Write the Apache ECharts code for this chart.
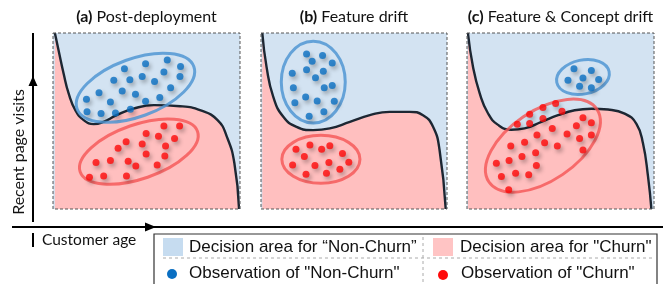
<!DOCTYPE html>
<html>
<head>
<meta charset="utf-8">
<script src="https://cdn.jsdelivr.net/npm/echarts@6/dist/echarts.min.js"></script>
<style>
  html, body { margin: 0; padding: 0; background: #fff; }
  #chart { width: 663px; height: 284px; }
</style>
</head>
<body>
<div id="chart"></div>
<script>
// panel titles
const panelTags = ['(a)', '(b)', '(c)'];
const panelNames = ['Post-deployment', 'Feature drift', 'Feature & Concept drift'];

// decision boundary of each panel (x: customer age, y: recent page visits, 0-100)
const boundaryA = [[1, 100], [3, 90], [5.7, 76.8], [8.4, 65.5], [12, 56], [16.4, 50.5], [21.8, 48.2], [27, 49.5],
  [34, 53.3], [43, 57], [54, 59], [68, 58.4], [79, 56], [88, 50.5], [93, 41], [97, 26], [99.5, 0]];
const boundaryB = [[0.7, 100], [3, 80.6], [6.6, 63.7], [12, 52.4], [19.1, 46.7], [28.1, 44.8], [37, 45.8], [47.8, 49.5],
  [58.5, 53.3], [69.2, 55.2], [80, 55.2], [87.1, 53.3], [92.5, 46.7], [96, 33.5], [99.3, 0]];
const boundaryC = [[0.5, 100], [3.2, 80.8], [6.8, 65.7], [11.2, 54.4], [16.6, 47.8], [23.7, 45], [30.8, 45.8], [39.8, 49.5],
  [48.7, 53.3], [57.6, 56.1], [66.5, 57], [75.4, 56.5], [84.3, 54.2], [90.6, 48.4], [94.1, 37.3], [96.8, 18.5], [98.6, 0]];

// observations
const nonChurnA = [[49.5, 82.5], [61.1, 84.7], [68.2, 81], [38.2, 79.7], [41.1, 73.4], [47.7, 75.3], [59.3, 77.8], [67.9, 75.3],
  [32.5, 73.1], [54.3, 72.5], [62.9, 68.9], [24.6, 66.1], [37, 67], [44.1, 65.2], [57.1, 63.3], [17.9, 62.3], [30.7, 60.8],
  [49.5, 61.2], [41.4, 56.7], [18.2, 55.2], [25.7, 54.2], [33.4, 54.6]];
const churnA = [[59.3, 47.1], [67.7, 47.1], [49.8, 42.9], [56.4, 41.4], [65, 40.1], [39.1, 38.2], [34.8, 34.5], [47.7, 36.9],
  [60.2, 35.8], [49.8, 31.3], [59.8, 30.1], [23, 26.4], [30.7, 27.5], [40.2, 27.1], [44.3, 24.5], [55.7, 25], [19.5, 18.1],
  [27.1, 18.8], [39.3, 18.8]];
const nonChurnB = [[24.5, 88.1], [33.1, 87.2], [27.5, 84], [38.3, 83], [16.8, 77.2], [24.5, 79.1], [33.5, 78.3], [29.3, 74.6],
  [17.4, 68.9], [34, 68.9], [38.3, 70.2], [24, 63.7], [30.2, 61.4], [39.4, 61.2], [18.2, 60.3], [33.8, 55.2], [25.9, 52.7]];
const churnB = [[26.3, 36.3], [37, 36], [18.8, 33.9], [32.6, 33.9], [23.3, 29.8], [43.8, 31.6], [17, 25], [29, 24.7],
  [36.5, 26.4], [47.2, 26.6], [24.2, 19.8], [35.2, 20.3], [42.4, 22.6]];
const nonChurnC = [[57.2, 79.7], [66.5, 78.7], [54, 73.1], [62, 74.4], [70.4, 73.6], [60.2, 69.7], [66.5, 68.9]];
const churnC = [[47.4, 59.9], [40.6, 57.6], [50.8, 55.6], [33.5, 53.9], [40.6, 51.4], [26.9, 48.2], [33.5, 48.6], [62, 51.8],
  [66.5, 49], [58.5, 47.3], [45.6, 45.8], [37.4, 42], [53.5, 42.6], [66.5, 42], [23.4, 35.8], [30.8, 37.9], [41.5, 37.7],
  [48.3, 35.8], [60.2, 40.1], [62, 33.5], [36.7, 32], [29.4, 29.8], [15.7, 26], [22.5, 27.5], [37.1, 24.7], [18.4, 18.5],
  [26, 20.3], [33, 19.4], [22.3, 10.9]];

// cluster outlines: [centre x, centre y, semi axis a, semi axis b, tilt deg]
const clusterNonChurn = [[44.1, 68.9, 33.2, 15.5, 20], [28.1, 72.1, 17.2, 22, 0], [62, 75, 14.3, 9.1, 12]];
const clusterChurn = [[45.9, 32.6, 33.2, 14.5, 19], [32.2, 28.2, 21, 12.9, 0], [40.6, 36, 34.8, 18.7, 34]];

const boundaries = [boundaryA, boundaryB, boundaryC];
const nonChurn = [nonChurnA, nonChurnB, nonChurnC];
const churn = [churnA, churnB, churnC];

const panels = [
  { left: 53, top: 33, width: 187, height: 176 },
  { left: 261, top: 33, width: 186, height: 176 },
  { left: 467, top: 33, width: 187, height: 176 }
];

const blueArea = '#d3e3f2';
const pinkArea = '#ffbfbf';
const titleFont = 'Lato, "Open Sans", sans-serif';
const legendFont = '"Liberation Sans", Arial, sans-serif';

const chart = echarts.init(document.getElementById('chart'));

function ellipseItem(color) {
  return function (params, api) {
    const c = api.coord([api.value(0), api.value(1)]);
    const rx = api.size([api.value(2), 0])[0];
    const ry = api.size([api.value(3), 0])[0];
    return {
      type: 'ellipse',
      x: c[0],
      y: c[1],
      rotation: api.value(4) * Math.PI / 180,
      shape: { cx: 0, cy: 0, rx: rx, ry: ry },
      style: { fill: 'none', stroke: color, lineWidth: 3 }
    };
  };
}

const grid = [], xAxis = [], yAxis = [], series = [], graphic = [];
panels.forEach((p, i) => {
  grid.push({ left: p.left, top: p.top, width: p.width, height: p.height, show: true,
    backgroundColor: blueArea, borderWidth: 0 });
  xAxis.push({ gridIndex: i, type: 'value', min: 0, max: 100, show: false });
  yAxis.push({ gridIndex: i, type: 'value', min: 0, max: 100, show: false });

  series.push({
    type: 'line', xAxisIndex: i, yAxisIndex: i, data: boundaries[i],
    smooth: 0.5, showSymbol: false, silent: true, z: 2,
    lineStyle: { color: '#1d2733', width: 2.4 },
    areaStyle: { color: pinkArea, opacity: 1, origin: 'start' }
  });
  series.push({
    type: 'custom', xAxisIndex: i, yAxisIndex: i, z: 3, silent: true,
    renderItem: ellipseItem('rgba(80,150,212,0.85)'), data: [clusterNonChurn[i]]
  });
  series.push({
    type: 'custom', xAxisIndex: i, yAxisIndex: i, z: 3, silent: true,
    renderItem: ellipseItem('rgba(245,85,85,0.8)'), data: [clusterChurn[i]]
  });
  series.push({
    type: 'scatter', xAxisIndex: i, yAxisIndex: i, data: nonChurn[i], symbolSize: 7, z: 4,
    itemStyle: { color: '#0a6fc2', shadowBlur: 4, shadowColor: 'rgba(0,0,0,0.35)', shadowOffsetX: 2, shadowOffsetY: 3 }
  });
  series.push({
    type: 'scatter', xAxisIndex: i, yAxisIndex: i, data: churn[i], symbolSize: 7, z: 4,
    itemStyle: { color: '#ff0a0a', shadowBlur: 4, shadowColor: 'rgba(0,0,0,0.35)', shadowOffsetX: 2, shadowOffsetY: 3 }
  });

  // dashed panel frame
  graphic.push({
    type: 'rect', z: 100, silent: true,
    shape: { x: p.left, y: p.top, width: p.width, height: p.height },
    style: { fill: 'none', stroke: '#555', lineWidth: 1, lineDash: [3, 2] }
  });
  // panel title
  graphic.push({
    type: 'text', z: 100, x: p.left + p.width / 2, y: 17,
    style: {
      text: '{b|' + panelTags[i] + '} ' + panelNames[i],
      align: 'center', verticalAlign: 'middle',
      font: '16px ' + titleFont, fill: '#111',
      rich: { b: { font: 'bold 16px ' + titleFont, fill: '#111' } }
    }
  });
});

// axes drawn as arrows
graphic.push(
  { type: 'line', shape: { x1: 33, y1: 33, x2: 33, y2: 222 }, style: { stroke: '#000', lineWidth: 2 } },
  { type: 'polygon', shape: { points: [[33, 76], [28.5, 86], [37.5, 86]] }, style: { fill: '#000' } },
  { type: 'line', shape: { x1: 12, y1: 227, x2: 663, y2: 227 }, style: { stroke: '#000', lineWidth: 2 } },
  { type: 'polygon', shape: { points: [[156, 227], [145, 222.5], [145, 231.5]] }, style: { fill: '#000' } },
  { type: 'line', shape: { x1: 33, y1: 233, x2: 33, y2: 247 }, style: { stroke: '#000', lineWidth: 2 } },
  { type: 'text', x: 42, y: 240, style: { text: 'Customer age', font: '15.5px ' + titleFont, fill: '#111', verticalAlign: 'middle' } },
  { type: 'text', x: 19, y: 152, rotation: Math.PI / 2,
    style: { text: 'Recent page visits', font: '16px ' + titleFont, fill: '#111', align: 'center', verticalAlign: 'middle' } }
);

// legend box
graphic.push(
  { type: 'rect', shape: { x: 154, y: 234, width: 503, height: 60 }, style: { fill: '#fff', stroke: '#333', lineWidth: 1.2 } },
  { type: 'rect', shape: { x: 163, y: 238, width: 20, height: 18 }, style: { fill: '#c6dcf0' } },
  { type: 'text', x: 189, y: 247, style: { text: 'Decision area for \u201cNon-Churn\u201d', font: '17px ' + legendFont, fill: '#111', verticalAlign: 'middle' } },
  { type: 'line', shape: { x1: 423, y1: 237, x2: 423, y2: 284 }, style: { stroke: '#aaa', lineWidth: 1, lineDash: [3, 3] } },
  { type: 'rect', shape: { x: 433, y: 238, width: 20, height: 18 }, style: { fill: '#ffc4c4' } },
  { type: 'text', x: 460, y: 247, style: { text: 'Decision area for "Churn"', font: '17px ' + legendFont, fill: '#111', verticalAlign: 'middle' } },
  { type: 'line', shape: { x1: 163, y1: 258, x2: 655, y2: 258 }, style: { stroke: '#aaa', lineWidth: 1, lineDash: [3, 3] } },
  { type: 'circle', shape: { cx: 172, cy: 274, r: 5 }, style: { fill: '#0a6fc2' } },
  { type: 'text', x: 189, y: 273, style: { text: 'Observation of "Non-Churn"', font: '17px ' + legendFont, fill: '#111', verticalAlign: 'middle' } },
  { type: 'circle', shape: { cx: 443, cy: 275, r: 5 }, style: { fill: '#ff0a0a' } },
  { type: 'text', x: 461, y: 273, style: { text: 'Observation of "Churn"', font: '17px ' + legendFont, fill: '#111', verticalAlign: 'middle' } }
);

chart.setOption({
  animation: false,
  grid: grid,
  xAxis: xAxis,
  yAxis: yAxis,
  series: series,
  graphic: graphic
});
</script>
</body>
</html>
